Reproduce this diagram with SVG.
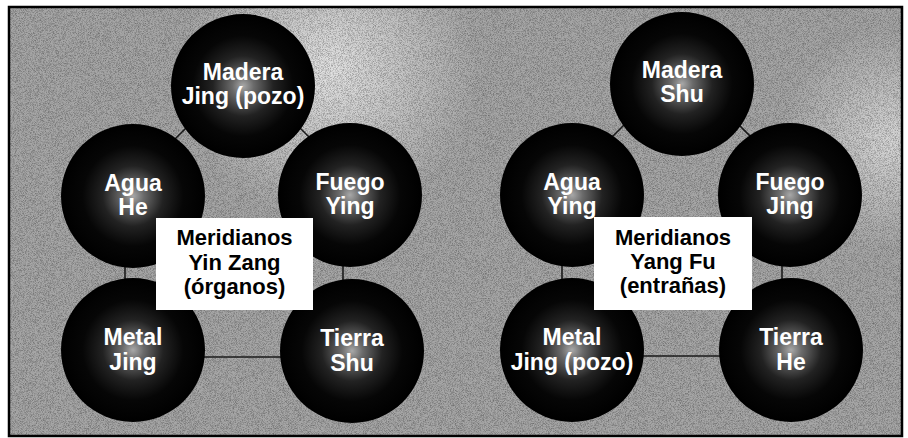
<svg xmlns="http://www.w3.org/2000/svg" width="908" height="438" viewBox="0 0 908 438">
  <defs>
    <radialGradient id="ball" cx="0.5" cy="0.5" r="0.5">
      <stop offset="0" stop-color="#a8a8a8"/>
      <stop offset="0.15" stop-color="#6a6a6a"/>
      <stop offset="0.42" stop-color="#222"/>
      <stop offset="0.7" stop-color="#060606"/>
      <stop offset="1" stop-color="#000"/>
    </radialGradient>
    <radialGradient id="spot1" cx="330" cy="70" r="150" gradientUnits="userSpaceOnUse">
      <stop offset="0" stop-color="#e2e2e2"/>
      <stop offset="1" stop-color="#e2e2e2" stop-opacity="0"/>
    </radialGradient>
    <radialGradient id="spot2" cx="890" cy="140" r="110" gradientUnits="userSpaceOnUse">
      <stop offset="0" stop-color="#d6d6d6"/>
      <stop offset="1" stop-color="#d6d6d6" stop-opacity="0"/>
    </radialGradient>
    <filter id="grain" x="0" y="0" width="100%" height="100%">
      <feTurbulence type="fractalNoise" baseFrequency="1.4" numOctaves="1" seed="3" result="n"/>
      <feColorMatrix type="matrix" values="0 0 0 0 0  0 0 0 0 0  0 0 0 0 0  0 0 0 -2 1.2" in="n"/>
    </filter>
    <style>
      .conn line { stroke: #1a1a1a; stroke-width: 1.6; }
      .node circle { fill: url(#ball); }
      .node text { font-family: "Liberation Sans", Arial, sans-serif; font-weight: bold; font-size: 23px; fill: #fff; text-anchor: middle; }
      .label rect { fill: #fff; }
      .label text { font-family: "Liberation Sans", Arial, sans-serif; font-weight: bold; font-size: 22px; fill: #000; text-anchor: middle; }
    </style>
  </defs>

  <rect x="0" y="0" width="908" height="438" fill="#fff"/>
  <g id="background">
    <rect x="9" y="7" width="893" height="429" fill="#a6a6a6"/>
    <rect x="9" y="7" width="893" height="429" fill="url(#spot1)"/>
    <rect x="9" y="7" width="893" height="429" fill="url(#spot2)"/>
    <rect x="9" y="7" width="893" height="429" filter="url(#grain)" opacity="0.4"/>
    <rect x="9" y="7" width="893" height="429" fill="none" stroke="#000" stroke-width="2.5"/>
  </g>

  <g id="connectors" class="conn">
    <line x1="160" y1="154" x2="202" y2="112"/>
    <line x1="284" y1="112" x2="326" y2="154"/>
    <line x1="125" y1="230" x2="125" y2="310"/>
    <line x1="343" y1="230" x2="343" y2="310"/>
    <line x1="170" y1="357" x2="315" y2="357"/>
    <line x1="597" y1="152" x2="639" y2="110"/>
    <line x1="724" y1="110" x2="766" y2="152"/>
    <line x1="562" y1="230" x2="562" y2="310"/>
    <line x1="782" y1="230" x2="782" y2="310"/>
    <line x1="610" y1="356" x2="755" y2="356"/>
  </g>

  <g id="yin-madera" class="node"><circle cx="243" cy="86" r="72"/><text x="243" y="80">Madera</text><text x="243" y="104">Jing (pozo)</text></g>
  <g id="yin-agua" class="node"><circle cx="133" cy="196" r="72"/><text x="133" y="191">Agua</text><text x="133" y="215">He</text></g>
  <g id="yin-fuego" class="node"><circle cx="350" cy="195" r="72"/><text x="350" y="190">Fuego</text><text x="350" y="214">Ying</text></g>
  <g id="yin-metal" class="node"><circle cx="133" cy="350" r="72"/><text x="133" y="345">Metal</text><text x="133" y="370">Jing</text></g>
  <g id="yin-tierra" class="node"><circle cx="352" cy="351" r="72"/><text x="352" y="346">Tierra</text><text x="352" y="371">Shu</text></g>

  <g id="yin-label" class="label">
    <rect x="156" y="218" width="157" height="92"/>
    <text x="234.5" y="245">Meridianos</text>
    <text x="234.5" y="270">Yin Zang</text>
    <text x="234.5" y="294">(órganos)</text>
  </g>

  <g id="yang-madera" class="node"><circle cx="682" cy="84" r="72"/><text x="682" y="78">Madera</text><text x="682" y="102">Shu</text></g>
  <g id="yang-agua" class="node"><circle cx="572" cy="195" r="72"/><text x="572" y="190">Agua</text><text x="572" y="214">Ying</text></g>
  <g id="yang-fuego" class="node"><circle cx="790" cy="195" r="72"/><text x="790" y="190">Fuego</text><text x="790" y="214">Jing</text></g>
  <g id="yang-metal" class="node"><circle cx="572" cy="350" r="72"/><text x="572" y="345">Metal</text><text x="572" y="370">Jing (pozo)</text></g>
  <g id="yang-tierra" class="node"><circle cx="791" cy="350" r="72"/><text x="791" y="345">Tierra</text><text x="791" y="370">He</text></g>

  <g id="yang-label" class="label">
    <rect x="594" y="217" width="158" height="93"/>
    <text x="673" y="245">Meridianos</text>
    <text x="673" y="269">Yang Fu</text>
    <text x="673" y="293">(entrañas)</text>
  </g>
</svg>
